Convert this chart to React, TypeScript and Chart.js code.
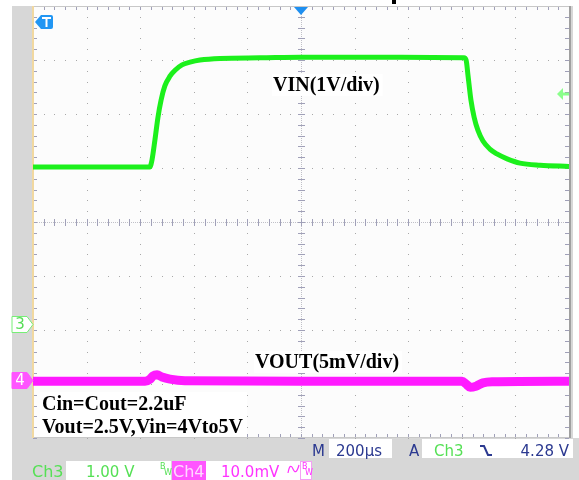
import React, { useEffect, useRef } from "react";
import { Chart, registerables } from "chart.js";

Chart.register(...registerables);

// Horizontal: time in µs relative to trigger (200 µs/div, 10 div)
const timeTicks = [-1000, -800, -600, -400, -200, 0, 200, 400, 600, 800, 1000];
// Vertical: screen divisions (8 div, centre = 0)
const divTicks = [-4, -3, -2, -1, 0, 1, 2, 3, 4];

// CH3 – VIN trace (1 V/div), screen divisions
const vinTime = [-1000, -564, -556, -545, -534, -522, -508, -489, -470, -444, -414, -377, -302, -153, 0, 369, 608, 616, 623, 634, 646, 660, 679, 705, 731, 769, 817, 892, 1000];
const vinDiv = [1.02, 1.02, 1.15, 1.52, 1.93, 2.26, 2.52, 2.70, 2.81, 2.91, 2.96, 3.00, 3.03, 3.04, 3.05, 3.05, 3.04, 3.00, 2.72, 2.26, 1.94, 1.70, 1.50, 1.35, 1.26, 1.17, 1.09, 1.05, 1.03];

// CH4 – VOUT trace (5 mV/div), screen divisions
const voutTime = [-1000, -582, -563, -552, -537, -519, -489, -433, 0, 601, 616, 631, 653, 679, 713, 1000];
const voutDiv = [-2.95, -2.95, -2.91, -2.85, -2.83, -2.87, -2.91, -2.94, -2.95, -2.95, -3.00, -3.06, -3.04, -2.98, -2.96, -2.95];

// Channel reference markers / trigger level (screen divisions)
const ch3OffsetDiv = -1.89;
const ch4OffsetDiv = -2.93;
const triggerLevelDiv = 2.37;
const triggerTime = 0;

// Texts
const vinLabel = "VIN(1V/div)";
const voutLabel = "VOUT(5mV/div)";
const noteLines = ["Cin=Cout=2.2uF", "Vout=2.5V,Vin=4Vto5V"];
const timebase = "200µs";
const trigSource = "Ch3";
const trigLevel = "4.28 V";
const ch3Scale = "1.00 V";
const ch4Scale = "10.0mV";

const W = 579;
const H = 480;
const DARK = "#2b3990";
const GREEN_TXT = "#55e055";
const MAG = "#ff33ff";

const scopePlugin = {
  id: "scope",
  beforeDraw(chart: any) {
    const { ctx, chartArea: a, scales } = chart;
    const xs = scales.x;
    const ys = scales.y;
    ctx.save();
    ctx.fillStyle = "#ffffff";
    ctx.fillRect(0, 0, W, H);
    ctx.fillStyle = "#d7d7d7";
    ctx.fillRect(12, 6, 561, H - 6);
    ctx.fillRect(12, a.bottom, W - 12, H - a.bottom);
    ctx.fillStyle = "#fcfcfc";
    ctx.fillRect(a.left, a.top, a.right - a.left, a.bottom - a.top);

    const minorT = 40;
    const minorD = 0.2;
    // dotted grid
    ctx.fillStyle = "#a8a8a8";
    for (const t of timeTicks) {
      if (t === -1000 || t === 1000 || t === 0) continue;
      const px = Math.round(xs.getPixelForValue(t));
      for (let v = -4; v <= 4.001; v += minorD) {
        const py = Math.round(ys.getPixelForValue(v));
        ctx.fillRect(px, py, 1, 1);
      }
    }
    for (const d of divTicks) {
      if (d === -4 || d === 4 || d === 0) continue;
      const py = Math.round(ys.getPixelForValue(d));
      for (let t = -1000; t <= 1000.1; t += minorT) {
        const px = Math.round(xs.getPixelForValue(t));
        ctx.fillRect(px, py, 1, 1);
      }
    }
    // centre cross with ticks
    const cx = Math.round(xs.getPixelForValue(0));
    const cy = Math.round(ys.getPixelForValue(0));
    ctx.fillStyle = "#c0c0c8";
    for (let px = a.left; px < a.right; px += 2) ctx.fillRect(px, cy, 1, 1);
    for (let py = a.top; py < a.bottom; py += 2) ctx.fillRect(cx, py, 1, 1);
    ctx.fillStyle = "#a0a0b8";
    for (let t = -1000; t <= 1000.1; t += minorT) {
      const px = Math.round(xs.getPixelForValue(t));
      ctx.fillRect(px, cy - 3, 1, 7);
      ctx.fillRect(px, a.top, 1, 4);
      ctx.fillRect(px, a.bottom - 4, 1, 4);
    }
    for (let v = -4; v <= 4.001; v += minorD) {
      const py = Math.round(ys.getPixelForValue(v));
      ctx.fillRect(cx - 3, py, 7, 1);
      ctx.fillRect(a.left, py, 4, 1);
      ctx.fillRect(a.right - 4, py, 4, 1);
    }
    // borders
    ctx.strokeStyle = "#c8c8c8";
    ctx.lineWidth = 1;
    ctx.beginPath();
    ctx.moveTo(a.left, a.top + 0.5);
    ctx.lineTo(a.right, a.top + 0.5);
    ctx.moveTo(a.left, a.bottom - 0.5);
    ctx.lineTo(a.right, a.bottom - 0.5);
    ctx.stroke();
    ctx.strokeStyle = "#a0a0a0";
    ctx.lineWidth = 2;
    ctx.beginPath();
    ctx.moveTo(a.right + 1, a.top);
    ctx.lineTo(a.right + 1, a.bottom);
    ctx.stroke();
    ctx.strokeStyle = "#f1d8a0";
    ctx.beginPath();
    ctx.moveTo(a.left, a.top);
    ctx.lineTo(a.left, a.bottom);
    ctx.stroke();

    // text boxes (white) under the traces
    ctx.font = "bold 20px 'Liberation Serif'";
    ctx.fillStyle = "#ffffff";
    const vw = ctx.measureText(vinLabel).width;
    ctx.fillRect(272, 74, vw + 4, 22);
    const ow = ctx.measureText(voutLabel).width;
    ctx.fillRect(254, 351, ow + 4, 22);
    const nw = Math.max(...noteLines.map((s) => ctx.measureText(s).width));
    ctx.fillRect(40, 392, nw + 6, 45);
    ctx.restore();
  },
  afterDraw(chart: any) {
    const { ctx, chartArea: a, scales } = chart;
    const xs = scales.x;
    const ys = scales.y;
    ctx.save();
    // labels
    ctx.fillStyle = "#000000";
    ctx.font = "bold 20px 'Liberation Serif'";
    ctx.textBaseline = "alphabetic";
    ctx.textAlign = "left";
    ctx.fillText(vinLabel, 273, 91);
    ctx.fillText(voutLabel, 255, 368);
    ctx.fillText(noteLines[0], 42, 410);
    ctx.fillText(noteLines[1], 42, 433);

    // cropped title fragment
    ctx.fillRect(392, 0, 4, 4);

    // trigger position marker (top)
    const tx = xs.getPixelForValue(triggerTime);
    ctx.fillStyle = "#1e8ff0";
    ctx.beginPath();
    ctx.moveTo(tx - 7, a.top + 1);
    ctx.lineTo(tx + 7, a.top + 1);
    ctx.lineTo(tx, a.top + 9);
    ctx.closePath();
    ctx.fill();

    // T marker
    ctx.fillStyle = "#2196f3";
    ctx.beginPath();
    ctx.moveTo(35, 22);
    ctx.lineTo(41, 15);
    ctx.lineTo(51, 15);
    ctx.quadraticCurveTo(53, 15, 53, 17);
    ctx.lineTo(53, 27);
    ctx.quadraticCurveTo(53, 29, 51, 29);
    ctx.lineTo(41, 29);
    ctx.closePath();
    ctx.fill();
    ctx.fillStyle = "#ffffff";
    ctx.fillRect(42, 17, 9, 2);
    ctx.fillRect(45.5, 17, 2, 10);

    // trigger level arrow (right)
    const ly = ys.getPixelForValue(triggerLevelDiv);
    ctx.fillStyle = "rgba(110,255,110,0.8)";
    ctx.beginPath();
    ctx.moveTo(a.right - 12, ly);
    ctx.lineTo(a.right - 6, ly - 6);
    ctx.lineTo(a.right - 6, ly + 6);
    ctx.closePath();
    ctx.fill();
    ctx.fillRect(a.right - 6, ly - 1.5, 6, 3);

    // channel markers
    const drawTag = (y: number, fill: string, stroke: string, txt: string, tc: string) => {
      ctx.beginPath();
      ctx.moveTo(12, y - 8);
      ctx.lineTo(27, y - 8);
      ctx.lineTo(33, y);
      ctx.lineTo(27, y + 8);
      ctx.lineTo(12, y + 8);
      ctx.closePath();
      ctx.fillStyle = fill;
      ctx.fill();
      ctx.strokeStyle = stroke;
      ctx.lineWidth = 1;
      ctx.stroke();
      ctx.fillStyle = tc;
      ctx.font = "15px 'DejaVu Sans'";
      ctx.textAlign = "center";
      ctx.textBaseline = "middle";
      ctx.fillText(txt, 20, y + 1);
    };
    drawTag(Math.round(ys.getPixelForValue(ch3OffsetDiv)) + 0.5, "#ffffff", "#77ee77", "3", "#55dd55");
    drawTag(Math.round(ys.getPixelForValue(ch4OffsetDiv)) + 0.5, "#ff55ff", "#ff55ff", "4", "#ffffff");

    // status bar
    ctx.textAlign = "left";
    ctx.textBaseline = "alphabetic";
    ctx.font = "15px 'DejaVu Sans'";
    ctx.fillStyle = "#ffffff";
    ctx.fillRect(329, 439, 63, 19);
    ctx.fillRect(422, 439, 151, 19);
    ctx.fillStyle = DARK;
    ctx.fillText("M", 312, 456);
    ctx.fillText(timebase, 336, 456);
    ctx.fillText("A", 409, 456);
    ctx.textAlign = "right";
    ctx.fillText(trigLevel, 569, 456);
    ctx.textAlign = "left";
    ctx.fillStyle = GREEN_TXT;
    ctx.fillText(trigSource, 434, 456);
    ctx.strokeStyle = DARK;
    ctx.lineWidth = 2;
    ctx.beginPath();
    ctx.moveTo(480, 446);
    ctx.lineTo(484, 446);
    ctx.lineTo(488, 455);
    ctx.lineTo(492, 455);
    ctx.stroke();

    // row 2
    ctx.fillStyle = "#ffffff";
    ctx.fillRect(66, 461, 105, 19);
    ctx.fillRect(206, 461, 95, 19);
    ctx.fillStyle = "#ff55ff";
    ctx.fillRect(172, 461, 34, 19);
    ctx.strokeStyle = "#f4a0f4";
    ctx.lineWidth = 1;
    ctx.fillStyle = "#ffffff";
    ctx.fillRect(300, 461, 12, 19);
    ctx.strokeRect(300.5, 461.5, 11, 18);
    ctx.font = "16px 'DejaVu Sans'";
    ctx.fillStyle = GREEN_TXT;
    ctx.fillText("Ch3", 32, 477);
    ctx.font = "15px 'DejaVu Sans'";
    ctx.fillText(ch3Scale, 86, 477);
    ctx.font = "8px 'DejaVu Sans'";
    ctx.fillText("B", 160, 469);
    ctx.fillText("W", 164, 475);
    ctx.font = "16px 'DejaVu Sans'";
    ctx.fillStyle = "#ffd8ff";
    ctx.fillText("Ch4", 173, 477);
    ctx.font = "15px 'DejaVu Sans'";
    ctx.fillStyle = MAG;
    ctx.fillText(ch4Scale, 221, 477);
    ctx.font = "8px 'DejaVu Sans'";
    ctx.fillText("B", 302, 469);
    ctx.fillText("W", 305, 475);
    ctx.strokeStyle = MAG;
    ctx.lineWidth = 1.2;
    ctx.beginPath();
    ctx.moveTo(288, 473);
    ctx.quadraticCurveTo(290, 462, 293, 469);
    ctx.quadraticCurveTo(296, 476, 299, 465);
    ctx.stroke();
    ctx.restore();
  },
};

export default function App() {
  const ref = useRef<HTMLCanvasElement | null>(null);
  useEffect(() => {
    if (!ref.current) return;
    const chart = new Chart(ref.current, {
      type: "line",
      data: {
        datasets: [
          {
            label: "VOUT",
            data: voutTime.map((t, i) => ({ x: t, y: voutDiv[i] })),
            borderColor: "#ff1aff",
            borderWidth: 9,
            pointRadius: 0,
            cubicInterpolationMode: "monotone",
            fill: false,
          },
          {
            label: "VIN",
            data: vinTime.map((t, i) => ({ x: t, y: vinDiv[i] })),
            borderColor: "#1cf01c",
            borderWidth: 5,
            pointRadius: 0,
            cubicInterpolationMode: "monotone",
            fill: false,
          },
        ],
      },
      options: {
        animation: false,
        responsive: false,
        devicePixelRatio: 1,
        layout: { padding: { left: 33, right: 10, top: 6, bottom: 42 } },
        plugins: { legend: { display: false }, tooltip: { enabled: false } },
        scales: {
          x: { type: "linear", min: timeTicks[0], max: timeTicks[timeTicks.length - 1], display: false },
          y: { type: "linear", min: divTicks[0], max: divTicks[divTicks.length - 1], display: false },
        },
      },
      plugins: [scopePlugin],
    });
    return () => chart.destroy();
  }, []);
  return (
    <div style={{ position: "absolute", left: 0, top: 0, width: W, height: H }}>
      <canvas ref={ref} width={W} height={H} style={{ display: "block" }} />
    </div>
  );
}
